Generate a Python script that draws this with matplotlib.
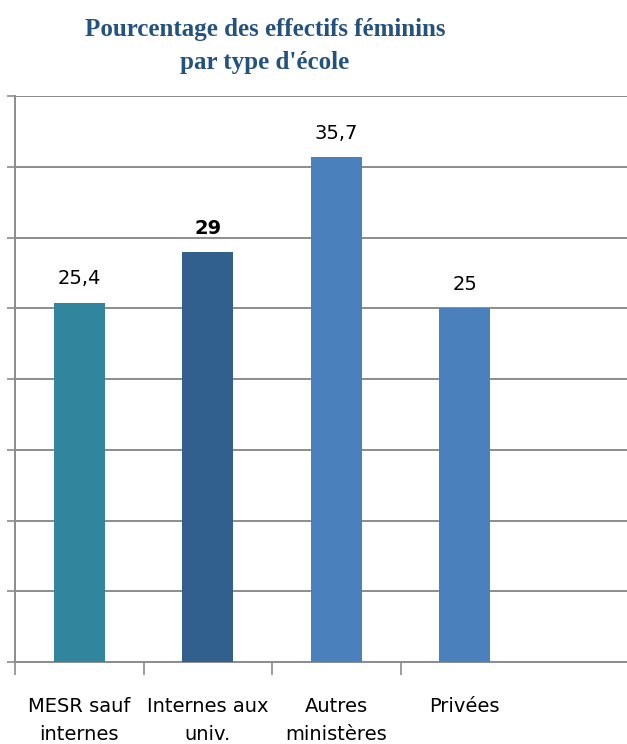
import matplotlib
matplotlib.use('Agg')
import matplotlib.pyplot as plt

categories = ['MESR sauf\ninternes', 'Internes aux\nuniv.', 'Autres\nministères', 'Privées']
values = [25.4, 29, 35.7, 25]
value_labels = ['25,4', '29', '35,7', '25']
colors = ['#31859C', '#31608F', '#4A81BD', '#4A81BD']

fig = plt.figure(figsize=(6.27, 7.44), dpi=100)
ax = fig.add_axes([15 / 627, 1 - 662 / 744, 1 - 15 / 627, (662 - 96) / 744])

x = range(len(categories))
ax.bar(x, values, width=0.4, color=colors, zorder=3)

for xi, v, lab in zip(x, values, value_labels):
    ax.annotate(lab, (xi, v), xytext=(0, 17), textcoords='offset points',
                ha='center', va='center', fontsize=14, color='black',
                fontweight='bold' if lab == '29' else 'normal')

ax.set_ylim(0, 40)
ax.set_xlim(-0.5, -0.5 + 612 / 128.5)
ax.set_yticks(range(0, 41, 5))
ax.set_yticklabels([])
ax.yaxis.grid(True, color='#8C8C8C', linewidth=1.4, zorder=0)
ax.tick_params(axis='y', length=6, width=1.2, color='#8C8C8C')

# category boundary ticks on the x axis, labels centred under bars
ax.set_xticks([-0.5, 0.5, 1.5, 2.5])
ax.set_xticklabels([])
ax.set_xticks(list(x), minor=True)
ax.set_xticklabels(categories, minor=True, fontsize=14, linespacing=1.6)
ax.tick_params(axis='x', which='major', length=9, width=1.2, color='#8C8C8C')
ax.tick_params(axis='x', which='minor', length=0, pad=25)

for s in ['top', 'right']:
    ax.spines[s].set_visible(False)
for s in ['left', 'bottom']:
    ax.spines[s].set_color('#8C8C8C')
    ax.spines[s].set_linewidth(1.4)

fig.text(265 / 627, 1 - 46 / 744, "Pourcentage des effectifs féminins\npar type d'école",
         ha='center', va='center', fontsize=18, fontweight='bold',
         family='Liberation Serif', color='#24527F', linespacing=1.6)

plt.savefig('out.png', dpi=100)
